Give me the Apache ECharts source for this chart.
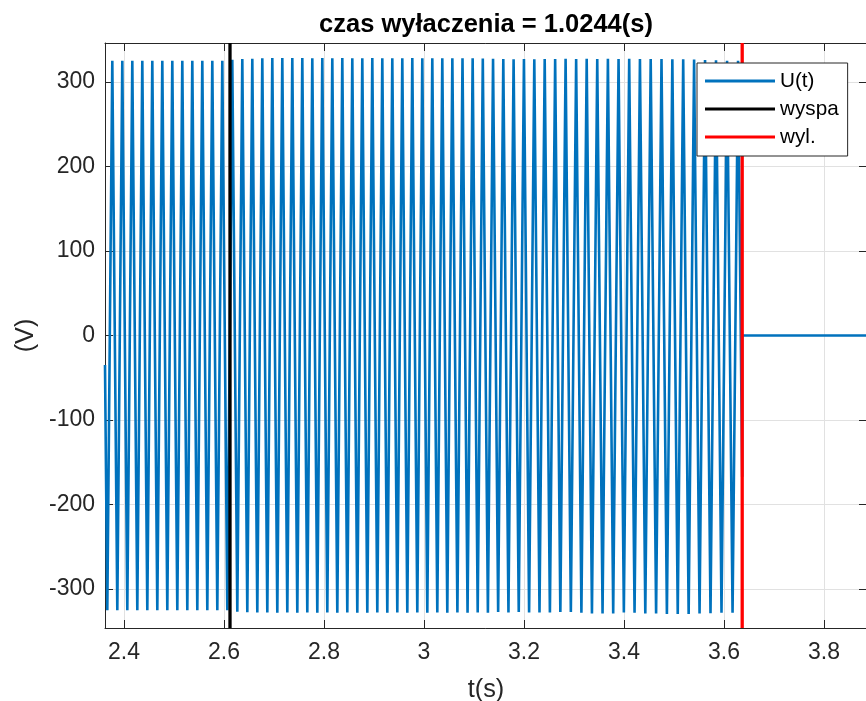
<!DOCTYPE html>
<html>
<head>
<meta charset="utf-8">
<script src="https://cdn.jsdelivr.net/npm/echarts@6/dist/echarts.min.js"></script>
<style>html,body{margin:0;padding:0;background:#fff;}#c{width:866px;height:701px;}</style>
</head>
<body>
<div id="c"></div>
<script>
// ---- data ----
const titleText = 'czas wyłaczenia = 1.0244(s)';
const xRange = [2.362, 3.886];
const yRange = [-346, 346];
const tIsland = 2.612;   // "wyspa"
const tOff = 3.6364;     // "wyl."

// U(t): start point, then alternating troughs/peaks of the waveform, then switch-off
const uTimes = [
  2.362,
  2.3666, 2.3766, 2.3866, 2.3966, 2.4066, 2.4166, 2.4266, 2.4366, 2.4466, 2.4566,
  2.4666, 2.4766, 2.4866, 2.4966, 2.5066, 2.5166, 2.5266, 2.5366, 2.5466, 2.5566,
  2.5666, 2.5766, 2.5866, 2.5966, 2.6066, 2.6166, 2.6266, 2.6366, 2.6466, 2.6566,
  2.6666, 2.6766, 2.6866, 2.6966, 2.7066, 2.7166, 2.7266, 2.7366, 2.7466, 2.7566,
  2.7666, 2.7766, 2.7866, 2.7966, 2.8066, 2.8166, 2.8266, 2.8366, 2.8466, 2.8566,
  2.8666, 2.8766, 2.8866, 2.8966, 2.9066, 2.9166, 2.9266, 2.9366, 2.9466, 2.9566,
  2.9666, 2.9766, 2.9866, 2.9966, 3.0066, 3.0166, 3.0266, 3.0366, 3.0466, 3.0567,
  3.0668, 3.0770, 3.0871, 3.0973, 3.1074, 3.1176, 3.1278, 3.1381, 3.1483, 3.1586,
  3.1689, 3.1792, 3.1895, 3.1999, 3.2102, 3.2206, 3.2310, 3.2414, 3.2518, 3.2623,
  3.2727, 3.2832, 3.2937, 3.3043, 3.3148, 3.3254, 3.3359, 3.3465, 3.3571, 3.3678,
  3.3784, 3.3891, 3.3997, 3.4104, 3.4211, 3.4319, 3.4426, 3.4534, 3.4642, 3.4750,
  3.4858, 3.4967, 3.5075, 3.5184, 3.5293, 3.5402, 3.5511, 3.5621, 3.5730, 3.5840,
  3.5950, 3.6061, 3.6171, 3.6281,
  3.6364, 3.6364, 3.886
];
const uValues = [
  -35,
  -325, 325, -325, 325, -325, 325, -325, 325, -325, 325,
  -325, 325, -325, 325, -325, 325, -325, 325, -325, 325,
  -325, 325, -325, 325, -325, 326.3, -326.8, 327, -327.3, 327.5,
  -327.6, 327.9, -327.6, 328.2, -327.8, 328.3, -327.6, 328.3, -327.8, 328.3,
  -327.6, 328, -327.8, 328.3, -327.6, 328, -327.8, 328.3, -327.6, 328,
  -327.8, 328, -327.8, 328.2, -327.6, 328, -327.8, 328, -327.6, 328,
  -327.8, 328.3, -327.6, 328, -327.8, 328, -327.6, 328, -327.8, 328,
  -327.6, 327.8, -327.8, 328, -327.6, 327.6, -327.8, 327.3, -327, 327,
  -327.6, 326.8, -327, 327, -327.6, 326.8, -327.6, 327, -327.6, 327,
  -327, 327.3, -327, 327, -328, 327.3, -328.8, 327, -328.8, 327.3,
  -328.8, 327, -327.6, 327.3, -328, 327, -328.8, 327, -328.8, 327,
  -329.5, 326.8, -329.5, 326.8, -329.5, 326.5, -328.8, 326, -328.5, 325.5,
  -328, 325, -328, 325,
  -167, 0, 0
];
const xTickLabels = ['2.4', '2.6', '2.8', '3', '3.2', '3.4', '3.6', '3.8'];
const yTickLabels = ['-300', '-200', '-100', '0', '100', '200', '300'];
const legendNames = ['U(t)', 'wyspa', 'wyl.'];
const seriesColors = ['#0072BD', '#000000', '#FF0000'];

// ---- chart ----
const FONT = '"Liberation Sans", Arial, Helvetica, sans-serif';
const AX = '#262626';
const uData = uTimes.map((t, i) => [t, uValues[i]]);
const vline = t => [[t, yRange[0]], [t, yRange[1]]];
const fmtX = v => { const s = String(+v.toFixed(4)); return xTickLabels.includes(s) ? s : ''; };
const fmtY = v => { const s = String(Math.round(v)); return yTickLabels.includes(s) ? s : ''; };

const chart = echarts.init(document.getElementById('c'), null, {renderer: 'canvas'});
const axisCommon = {
  axisLine: {show: true, onZero: false, lineStyle: {color: AX, width: 1}},
  axisTick: {show: true, inside: true, length: 8, lineStyle: {color: AX, width: 1}},
};
chart.setOption({
  animation: false,
  backgroundColor: '#fff',
  title: {
    text: titleText, left: 486, top: 12, textAlign: 'center', padding: 0,
    textStyle: {fontFamily: FONT, fontSize: 25.5, fontWeight: 'bold', color: '#000'}
  },
  legend: {
    orient: 'vertical', left: 697, top: 63, padding: [6, 9, 7, 8],
    itemWidth: 70, itemHeight: 3, itemGap: 4, icon: 'rect',
    backgroundColor: '#fff', borderColor: AX, borderWidth: 1, borderRadius: 0,
    textStyle: {fontFamily: FONT, fontSize: 20.7, color: '#000', lineHeight: 24},
    data: legendNames
  },
  grid: {left: 105, top: 43, width: 762, height: 585, containLabel: false, outerBoundsMode: 'none'},
  xAxis: [
    Object.assign({}, axisCommon, {
      type: 'value', min: xRange[0], max: xRange[1], splitNumber: 7, position: 'bottom',
      name: 't(s)', nameLocation: 'middle', nameGap: 50,
      nameTextStyle: {fontFamily: FONT, fontSize: 25.3, color: AX},
      axisLabel: {show: true, margin: 13, showMinLabel: false, showMaxLabel: false,
        fontFamily: FONT, fontSize: 23, color: AX, formatter: fmtX},
      splitLine: {show: true, lineStyle: {color: '#E1E1E1', width: 1}}
    }),
    Object.assign({}, axisCommon, {
      type: 'value', min: xRange[0], max: xRange[1], splitNumber: 7, position: 'top',
      axisLabel: {show: false}, splitLine: {show: false}
    })
  ],
  yAxis: [
    Object.assign({}, axisCommon, {
      type: 'value', min: yRange[0], max: yRange[1], splitNumber: 7, position: 'left',
      name: '(V)', nameLocation: 'middle', nameGap: 55, nameRotate: 90,
      nameTextStyle: {fontFamily: FONT, fontSize: 25.3, color: AX},
      axisLabel: {show: true, margin: 10, showMinLabel: false, showMaxLabel: false,
        fontFamily: FONT, fontSize: 23, color: AX, formatter: fmtY},
      splitLine: {show: true, lineStyle: {color: '#E1E1E1', width: 1}}
    }),
    Object.assign({}, axisCommon, {
      type: 'value', min: yRange[0], max: yRange[1], splitNumber: 7, position: 'right',
      axisLabel: {show: false}, splitLine: {show: false}
    })
  ],
  series: [
    {name: legendNames[0], type: 'line', data: uData, showSymbol: false, symbol: 'none',
      color: seriesColors[0], lineStyle: {color: seriesColors[0], width: 2.6}, clip: true, z: 2},
    {name: legendNames[1], type: 'line', data: vline(tIsland), showSymbol: false, symbol: 'none',
      color: seriesColors[1], lineStyle: {color: seriesColors[1], width: 3.3}, clip: true, z: 3},
    {name: legendNames[2], type: 'line', data: vline(tOff), showSymbol: false, symbol: 'none',
      color: seriesColors[2], lineStyle: {color: seriesColors[2], width: 3.3}, clip: true, z: 3}
  ]
});
</script>
</body>
</html>
